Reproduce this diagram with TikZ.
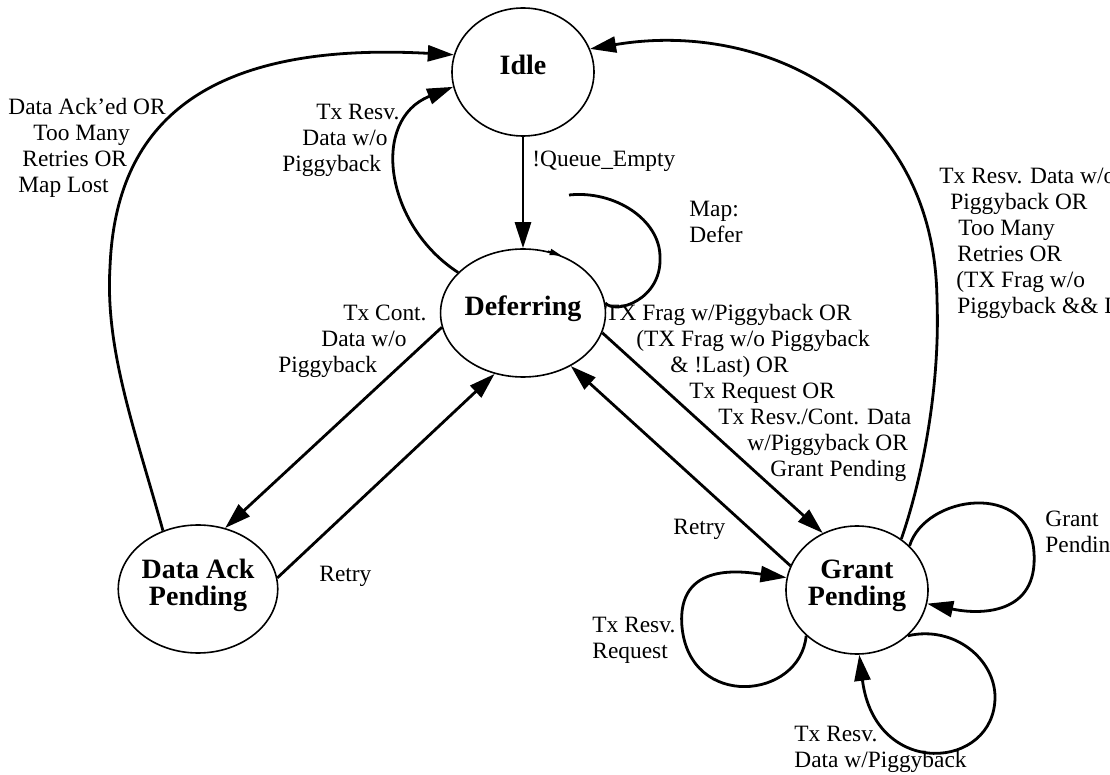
\documentclass[tikz,border=0pt]{standalone}
\usepackage{fontspec}
\setmainfont{Liberation Serif}
\usepackage{tikz}
\usetikzlibrary{arrows.meta,shapes.geometric}

\begin{document}
\begin{tikzpicture}[x=0.5pt, y=-0.5pt,
    state/.style={draw, ellipse, line width=0.8pt, minimum width=71pt, minimum height=64pt,
      inner sep=0pt, align=center, text depth=7pt, font=\fontsize{14}{13.5}\selectfont\bfseries},
    trans/.style={line width=1.4pt, -{Triangle[length=13pt,width=8pt]}},
    cond/.style={anchor=west, inner sep=0pt, align=left, font=\fontsize{11.7}{13}\selectfont}]
      \useasboundingbox (0,0) rectangle (1110,775);
      % states
      \node[state] (idle) at (523,72) {Idle};
      \node[state] (defer) at (523,313) {Deferring};
      \node[state] (ackpend) at (198,589) {Data Ack\\Pending};
      \node[state] (grantpend) at (857,590) {Grant\\Pending};
      % transitions
      \draw[trans] (idle.south) -- (defer.north);
      \draw[trans] (defer.148) .. controls (385,225) and (370,120) .. (idle.192);
      \draw[trans] (ackpend.121) .. controls (135,430) and (105,350) .. (110,267)
        .. controls (115,140) and (185,40) .. (idle.166);
      \draw[trans] (defer.190) -- (ackpend.66);
      \draw[trans] (ackpend.8) -- (defer.245);
      \draw[trans] (defer.346) -- (grantpend.121);
      \draw[trans] (grantpend.160) -- (defer.312);
      \draw[trans] (grantpend.49) .. controls (925,470) and (940,380) .. (937,300)
        .. controls (935,100) and (760,20) .. (idle.19);
      % self loops
      \coordinate (mapend) at (569,195);
      \draw[line width=1.4pt] (defer.7) .. controls (615,315) and (662,300) .. (660,257)
        .. controls (660,220) and (615,190) .. (mapend);
      \draw[line width=0.8pt, -{Triangle[length=6pt,width=3pt]}] (defer.68) -- (defer.56);
      \draw[trans] (grantpend.222) .. controls (800,700) and (690,710) .. (682,627)
        .. controls (676,560) and (745,572) .. (grantpend.170);
      \draw[trans] (grantpend.40) .. controls (925,495) and (1030,480) .. (1034,553)
        .. controls (1038,615) and (980,615) .. (grantpend.349);
      \draw[trans] (grantpend.318) .. controls (955,625) and (995,660) .. (995,697)
        .. controls (995,770) and (875,780) .. (grantpend.272);
      % conditions
      \node[cond] (lqueue) at (532,161) {!Queue\_Empty};
      \node[cond] (lresvidle) at (282,140) {\hspace*{17pt}Tx Resv.\\\hspace*{10pt}Data w/o\\Piggyback};
      \node[cond] (lackidle) at (8,148) {Data Ack'ed OR\\\hspace*{12.5pt}Too Many\\\hspace*{7pt}Retries OR\\\hspace*{5pt}Map Lost};
      \node[cond] (lcont) at (278,341) {\hspace*{32.5pt}Tx Cont.\\\hspace*{21.5pt}Data w/o\\Piggyback};
      \node[cond] (lretryack) at (319,576) {Retry};
      \node[cond] (lmap) at (689,222) {Map:\\Defer};
      \node[cond] (lgrant) at (605,393) {TX Frag w/Piggyback OR\\\hspace*{15.5pt}(TX Frag w/o Piggyback\\\hspace*{32.5pt}\& !Last) OR\\\hspace*{42pt}Tx Request OR\\\hspace*{56.5pt}Tx Resv./Cont. Data\\\hspace*{71pt}w/Piggyback OR\\\hspace*{82.5pt}Grant Pending};
      \node[cond] (lretrygrant) at (673,529) {Retry};
      \node[cond] (lidlegrant) at (939,243) {Tx Resv. Data w/o\\\hspace*{5.5pt}Piggyback OR\\\hspace*{9.5pt}Too Many\\\hspace*{9pt}Retries OR\\\hspace*{8.5pt}(TX Frag w/o\\\hspace*{9pt}Piggyback \&\& Last)};
      \node[cond] (lgrantloop) at (1045,534) {Grant\\Pending};
      \node[cond] (lreqloop) at (592,640) {Tx Resv.\\Request};
      \node[cond] (ldataloop) at (794,749) {Tx Resv.\\Data w/Piggyback};
    \end{tikzpicture}
\end{document}
